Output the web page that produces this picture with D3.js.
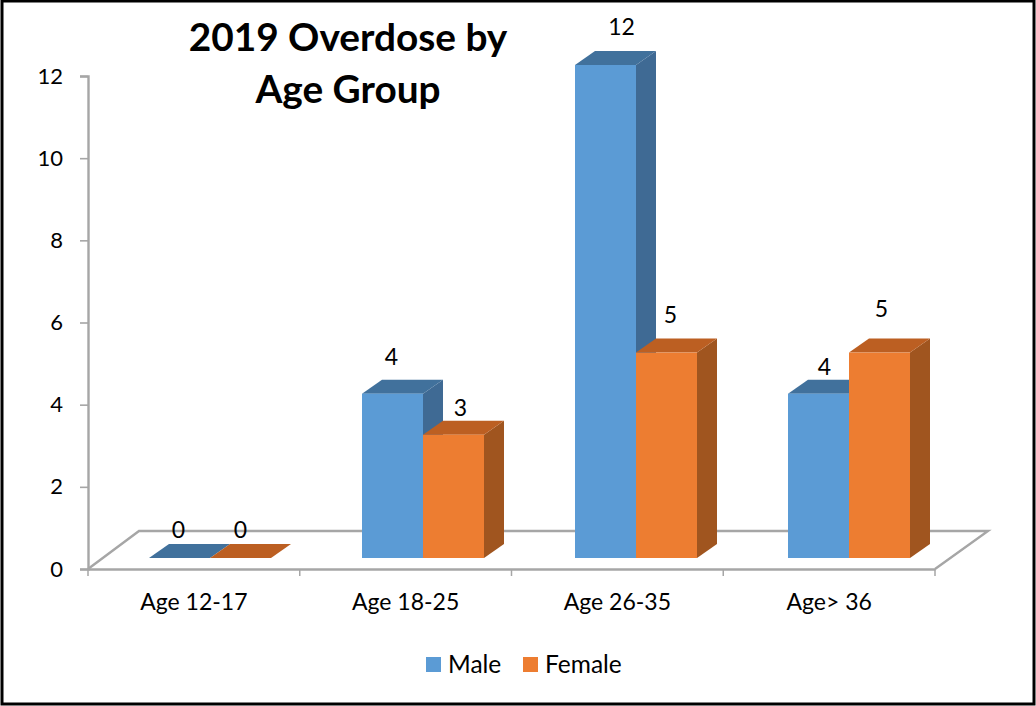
<!DOCTYPE html>
<html><head><meta charset="utf-8">
<style>html,body{margin:0;padding:0;background:#fff}svg{display:block}text{font-family:Lato,"Open Sans",sans-serif;fill:#000}</style>
<script src="https://cdn.jsdelivr.net/npm/d3@7/dist/d3.min.js"></script>
</head><body><svg id="c" width="1036" height="706"></svg>
<script>
const categories=["Age 12-17","Age 18-25","Age 26-35","Age> 36"];
const seriesNames=["Male","Female"];
const male=[0,4,12,4];
const female=[0,3,5,5];
const yTicks=[0,2,4,6,8,10,12];
const titleLines=["2019 Overdose by","Age Group"];
// hand-placed data label nudges in the source chart (dx,dy from bar top-centre)
const maleLabelNudge=[[-11,-20],[-11,-29],[6,-30],[-4,-19]];
const femaleLabelNudge=[[-10,-20],[-3,-19],[-6,-30],[-8,-36]];
const colors={Male:{front:"#5b9bd5",top:"#41719c",side:"#3f6a94"},Female:{front:"#ed7d31",top:"#bc5f22",side:"#a0551f"}};

const svg=d3.select("#c");
const W=1036,H=706;
svg.append("rect").attr("x",2).attr("y",1).attr("width",W-4).attr("height",H-3)
  .attr("fill","#fff").attr("stroke","#000").attr("stroke-width",3);

const x=d3.scaleBand().domain(categories).range([88,935]);
const xBars=d3.scaleBand().domain(categories).range([88,940]);
const y=d3.scaleLinear().domain([0,12]).range([569,76]);
const inner=d3.scaleBand().domain(seriesNames).range([61,183]);
const depthX=20,depthY=14,baseLift=11;
const backX=52,backY=38;

// floor
const fl=[[x.range()[0],y(0)],[x.range()[0]+backX-1,y(0)-backY],[x.range()[1]+backX+1,y(0)-backY],[x.range()[1],y(0)]];
svg.append("path").attr("d",d3.line()(fl)).attr("fill","#fff").attr("stroke","#a6a6a6").attr("stroke-width",2.4);

// axes
const yAxis=d3.axisLeft(y).tickValues(yTicks).tickSize(8).tickPadding(17).tickFormat(d3.format("d"));
const gy=svg.append("g").attr("transform","translate(88,0)").call(yAxis);
const xAxis=d3.axisBottom(x).tickSize(0).tickPadding(25);
const gx=svg.append("g").attr("transform",`translate(0,${y(0)})`).call(xAxis);
gx.selectAll("g.edge").data(d3.range(categories.length+1)).enter().append("line").attr("class","edge")
  .attr("x1",i=>x.range()[0]+i*x.step()).attr("x2",i=>x.range()[0]+i*x.step())
  .attr("y1",0).attr("y2",7).attr("stroke","#a6a6a6").attr("stroke-width",1.5);
[gy,gx].forEach(g=>{
  g.selectAll(".domain").attr("stroke","#a6a6a6").attr("stroke-width",2.4);
  g.selectAll(".tick line").attr("stroke","#a6a6a6").attr("stroke-width",1.6);
  g.selectAll("text").style("font-family",'Lato,"Open Sans",sans-serif').style("font-size","23px").attr("fill","#000");
});
gy.selectAll("text").style("font-size","22px");

// bars
const rows=categories.flatMap((c,i)=>[
  {c,s:"Male",v:male[i],n:maleLabelNudge[i]},
  {c,s:"Female",v:female[i],n:femaleLabelNudge[i]}]);
const bars=svg.append("g").selectAll("g").data(rows).join("g");
const L=d=>xBars(d.c)+inner(d.s), R=d=>L(d)+inner.bandwidth();
const T=d=>y(d.v)-baseLift, B=()=>y(0)-baseLift;
const ln=d3.line();
bars.append("path").attr("fill",d=>colors[d.s].side)
  .attr("d",d=>ln([[R(d),T(d)],[R(d)+depthX,T(d)-depthY],[R(d)+depthX,B()-depthY],[R(d),B()]])+"Z");
bars.append("path").attr("fill",d=>colors[d.s].top)
  .attr("d",d=>ln([[L(d),T(d)],[L(d)+depthX,T(d)-depthY],[R(d)+depthX,T(d)-depthY],[R(d),T(d)]])+"Z");
bars.append("rect").attr("fill",d=>colors[d.s].front)
  .attr("x",L).attr("y",T).attr("width",inner.bandwidth()).attr("height",d=>B()-T(d));

// data labels
svg.append("g").selectAll("text").data(rows).join("text")
  .attr("x",d=>(L(d)+R(d))/2+depthX/2+d.n[0])
  .attr("y",d=>T(d)+d.n[1])
  .attr("text-anchor","middle").style("font-size","23px").text(d=>d.v);

// title
svg.append("g").selectAll("text").data(titleLines).join("text")
  .attr("x",348).attr("y",(d,i)=>51+i*52)
  .attr("text-anchor","middle").style("font-size","38.8px").style("font-weight",700).text(d=>d);

// legend
const legX=d3.scaleOrdinal().domain(seriesNames).range([426,523]);
const leg=svg.append("g").selectAll("g").data(seriesNames).join("g").attr("transform",d=>`translate(${legX(d)},657)`);
leg.append("rect").attr("width",15).attr("height",15).attr("fill",d=>colors[d].front);
leg.append("text").attr("x",22).attr("y",16).style("font-size","24.5px").text(d=>d);
</script></body></html>
